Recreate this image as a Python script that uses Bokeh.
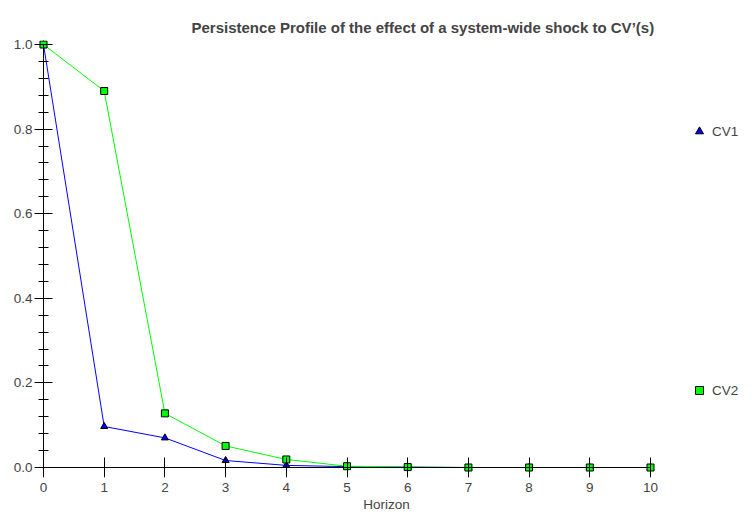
from bokeh.plotting import figure
from bokeh.models import Range1d, Legend, LegendItem, FixedTicker, NumeralTickFormatter, LinearAxis
from bokeh.embed import file_html
from bokeh.resources import INLINE

horizon = [0, 1, 2, 3, 4, 5, 6, 7, 8, 9, 10]
cv1 = [1.0, 0.097, 0.070, 0.0165, 0.005, 0.002, 0.001, 0.0, 0.0, 0.0, 0.0]
cv2 = [1.0, 0.890, 0.128, 0.051, 0.019, 0.003, 0.001, 0.0, 0.0, 0.0, 0.0]
x_ticks = [0, 1, 2, 3, 4, 5, 6, 7, 8, 9, 10]
y_ticks = [0.0, 0.2, 0.4, 0.6, 0.8, 1.0]
y_minor = [round(i * 0.04, 2) for i in range(26)]

FONT = "Liberation Sans"
FS = "13.5px"

p = figure(width=739, height=514, output_backend="svg", toolbar_location=None,
           x_range=Range1d(-0.1647, 11.466), y_range=Range1d(-0.02364, 1.00946),
           min_border_left=33, min_border_right=0, min_border_top=40, min_border_bottom=37)
p.outline_line_color = None
p.xgrid.grid_line_color = None
p.ygrid.grid_line_color = None

p.title.text = "Persistence Profile of the effect of a system-wide shock to CV\u2019(s)"
p.title.text_font = FONT
p.title.text_font_size = "15px"
p.title.text_font_style = "bold"
p.title.align = "left"
p.title.offset = 158
p.title.vertical_align = "middle"
p.title.standoff = 8

l1 = p.line(horizon, cv1, line_color="#0000FF", line_width=1)
m1 = p.scatter(horizon, cv1, marker="triangle", size=7, fill_color="#0000FF", line_color="black")
l2 = p.line(horizon, cv2, line_color="#00FF00", line_width=1)
m2 = p.scatter(horizon, cv2, marker="square", size=7, fill_color="#00FF00", line_color="black")

# label-only axes at the frame edges
xa = p.xaxis[0]
xa.ticker = FixedTicker(ticks=x_ticks)
xa.axis_line_color = None
xa.major_tick_line_color = None
xa.minor_tick_line_color = None
xa.major_tick_in = 0
xa.major_tick_out = 0
xa.minor_tick_out = 0
xa.axis_label = "Horizon"
xa.axis_label_text_font = FONT
xa.axis_label_text_font_size = FS
xa.axis_label_text_font_style = "normal"
xa.axis_label_standoff = 2
xa.major_label_text_font = FONT
xa.major_label_text_font_size = FS
xa.major_label_standoff = 5

ya = p.yaxis[0]
ya.ticker = FixedTicker(ticks=y_ticks, minor_ticks=[])
ya.formatter = NumeralTickFormatter(format="0.0")
ya.axis_line_color = None
ya.major_tick_line_color = None
ya.minor_tick_line_color = None
ya.major_tick_in = 0
ya.major_tick_out = 0
ya.minor_tick_out = 0
ya.major_label_text_font = FONT
ya.major_label_text_font_size = FS
ya.major_label_standoff = 1


def line_axis(side, ticker, bounds, tin, mtin):
    ax = LinearAxis(fixed_location=0, bounds=bounds, ticker=ticker,
                    major_tick_in=tin, major_tick_out=0,
                    minor_tick_in=mtin, minor_tick_out=0,
                    major_label_text_font_size="0px", major_label_standoff=0,
                    major_label_text_color=None, major_label_text_alpha=0,
                    axis_line_color="black", major_tick_line_color="black",
                    minor_tick_line_color="black" if mtin else None)
    p.add_layout(ax, side)
    return ax


line_axis("below", FixedTicker(ticks=x_ticks, minor_ticks=[]), (0, 10), 10, 0)
line_axis("above", FixedTicker(ticks=x_ticks, minor_ticks=[]), (0, 10), 10, 0)
line_axis("left", FixedTicker(ticks=y_ticks, minor_ticks=y_minor), (0, 1), 9, 5)
line_axis("right", FixedTicker(ticks=y_ticks, minor_ticks=y_minor), (0, 1), 9, 5)

legend = Legend(items=[LegendItem(label="CV1", renderers=[m1]),
                       LegendItem(label="CV2", renderers=[m2])],
                location=(656, 77), orientation="vertical", spacing=239,
                padding=0, margin=0, label_standoff=3,
                border_line_color=None, background_fill_alpha=0,
                label_text_font=FONT, label_text_font_size=FS)
p.add_layout(legend)

open("out.html", "w").write(file_html(p, INLINE))
